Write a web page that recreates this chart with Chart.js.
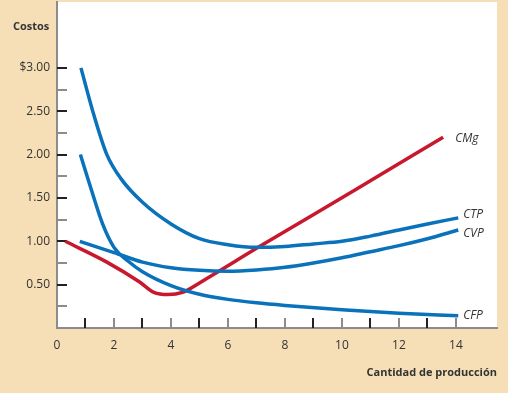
<!DOCTYPE html>
<html>
<head>
<meta charset="utf-8">
<script src="https://cdn.jsdelivr.net/npm/chart.js@4.4.1/dist/chart.umd.min.js"></script>
<style>
  html, body { margin: 0; padding: 0; background: #f6dfb6; }
  canvas { display: block; }
</style>
</head>
<body>
<canvas id="chart" width="508" height="393"></canvas>
<script>
// values
const ctpX = [0.84, 1.3, 1.75, 2.25, 3, 4, 5, 6, 7, 8, 9, 10, 11, 12, 13, 14.08]
const ctpY = [3.0, 2.45, 2.0, 1.72, 1.45, 1.2, 1.03, 0.96, 0.93, 0.94, 0.97, 1.0, 1.06, 1.13, 1.2, 1.27]

const cvpX = [0.8, 2, 3, 4, 5, 6, 7, 8, 9, 10, 11, 12, 13, 14.08]
const cvpY = [1.0, 0.87, 0.76, 0.695, 0.665, 0.655, 0.67, 0.7, 0.75, 0.81, 0.88, 0.95, 1.03, 1.13]

const cfpX = [0.82, 1.2, 1.6, 2, 2.5, 3, 4, 5, 6, 7, 8, 10, 12, 14.08]
const cfpY = [2.0, 1.6, 1.2, 0.93, 0.77, 0.65, 0.49, 0.39, 0.33, 0.29, 0.26, 0.21, 0.17, 0.14]

const cmgX = [0.29, 1.75, 2.9, 3.4, 3.9, 4.4, 5.0, 7.06, 10.5, 13.55]
const cmgY = [1.0, 0.76, 0.53, 0.41, 0.385, 0.41, 0.52, 0.93, 1.6, 2.2]

const seriesNames = ['CTP', 'CVP', 'CFP', 'CMg']
const yLabelTicks = [0.5, 1, 1.5, 2, 2.5, 3]
const xLabelTicks = [0, 2, 4, 6, 8, 10, 12, 14]

const blue = '#0a72ba'
const red = '#c8182e'
const axisGray = '#8c8c8c'
const textColor = '#333333'
const fontFamily = "'Open Sans', 'Noto Sans', sans-serif"

function toPoints(xs, ys) {
  return xs.map((x, i) => ({ x: x, y: ys[i] }))
}

// label offsets (px) from each curve's last point
const labelOffsets = {
  CTP: [5, -3],
  CVP: [5, 4],
  CFP: [5, 0],
  CMg: [12, 1]
}

const plotBackground = {
  id: 'plotBackground',
  beforeDraw(chart) {
    const { ctx, chartArea } = chart
    ctx.save()
    ctx.fillStyle = '#ffffff'
    ctx.fillRect(chartArea.left, chartArea.top, chartArea.right - chartArea.left, chartArea.bottom - chartArea.top)
    ctx.restore()
  }
}

// tick marks drawn inward from the axes
const innerTicks = {
  id: 'innerTicks',
  beforeDatasetsDraw(chart) {
    const { ctx, chartArea, scales } = chart
    ctx.save()
    ctx.lineWidth = 2
    for (let i = 1; i <= 12; i++) {
      const v = i * 0.25
      const y = Math.round(scales.y.getPixelForValue(v))
      ctx.strokeStyle = (i % 2 === 0) ? '#222' : axisGray
      ctx.beginPath()
      ctx.moveTo(chartArea.left, y)
      ctx.lineTo(chartArea.left + 10, y)
      ctx.stroke()
    }
    for (let i = 1; i <= 14; i++) {
      const x = Math.round(scales.x.getPixelForValue(i))
      ctx.strokeStyle = (i % 2 === 1) ? '#222' : axisGray
      ctx.beginPath()
      ctx.moveTo(x, chartArea.bottom)
      ctx.lineTo(x, chartArea.bottom - 10)
      ctx.stroke()
    }
    ctx.restore()
  }
}

const curveLabels = {
  id: 'curveLabels',
  afterDatasetsDraw(chart) {
    const { ctx } = chart
    ctx.save()
    ctx.fillStyle = textColor
    ctx.font = 'italic 12px ' + fontFamily
    ctx.textAlign = 'left'
    ctx.textBaseline = 'middle'
    chart.data.datasets.forEach((ds, i) => {
      const meta = chart.getDatasetMeta(i)
      const last = meta.data[meta.data.length - 1]
      const off = labelOffsets[ds.label]
      ctx.fillText(ds.label, last.x + off[0], last.y + off[1])
    })
    ctx.font = 'bold 11px ' + fontFamily
    ctx.fillText('Costos', 13, 27)
    ctx.restore()
  }
}

const lineStyle = {
  borderWidth: 3.5,
  pointRadius: 0,
  fill: false,
  cubicInterpolationMode: 'monotone',
  borderCapStyle: 'butt'
}

new Chart(document.getElementById('chart'), {
  type: 'line',
  data: {
    datasets: [
      { label: seriesNames[0], data: toPoints(ctpX, ctpY), borderColor: blue, ...lineStyle },
      { label: seriesNames[1], data: toPoints(cvpX, cvpY), borderColor: blue, ...lineStyle },
      { label: seriesNames[2], data: toPoints(cfpX, cfpY), borderColor: blue, ...lineStyle },
      { label: seriesNames[3], data: toPoints(cmgX, cmgY), borderColor: red, ...lineStyle }
    ]
  },
  options: {
    responsive: false,
    animation: false,
    devicePixelRatio: 1,
    layout: { padding: { top: 2, right: 11, left: 0, bottom: 0 } },
    plugins: {
      legend: { display: false },
      tooltip: { enabled: false }
    },
    scales: {
      x: {
        type: 'linear',
        min: 0,
        max: 15.44,
        afterFit(scale) {
          scale.height = 65
          scale.paddingLeft = 0
          scale.paddingRight = 0
        },
        afterBuildTicks(scale) { scale.ticks = xLabelTicks.map(v => ({ value: v })) },
        grid: { display: false, drawTicks: false },
        border: { display: true, color: axisGray, width: 2 },
        ticks: {
          padding: 10,
          color: textColor,
          font: { family: fontFamily, size: 12 },
          maxRotation: 0,
          autoSkip: false
        },
        title: {
          display: true,
          text: 'Cantidad de producción',
          align: 'end',
          color: textColor,
          font: { family: fontFamily, size: 11, weight: 'bold' },
          padding: { top: 0, bottom: 14 }
        }
      },
      y: {
        type: 'linear',
        min: 0,
        max: 3.76,
        afterFit(scale) {
          scale.width = 57
          scale.paddingTop = 0
          scale.paddingBottom = 0
        },
        afterBuildTicks(scale) { scale.ticks = yLabelTicks.map(v => ({ value: v })) },
        grid: { display: false, drawTicks: false },
        border: { display: true, color: axisGray, width: 2 },
        ticks: {
          padding: 7,
          color: textColor,
          font: { family: fontFamily, size: 12 },
          autoSkip: false,
          callback: function(value) {
            return value === 3 ? '$3.00' : value.toFixed(2)
          }
        }
      }
    }
  },
  plugins: [plotBackground, innerTicks, curveLabels]
})
</script>
</body>
</html>
